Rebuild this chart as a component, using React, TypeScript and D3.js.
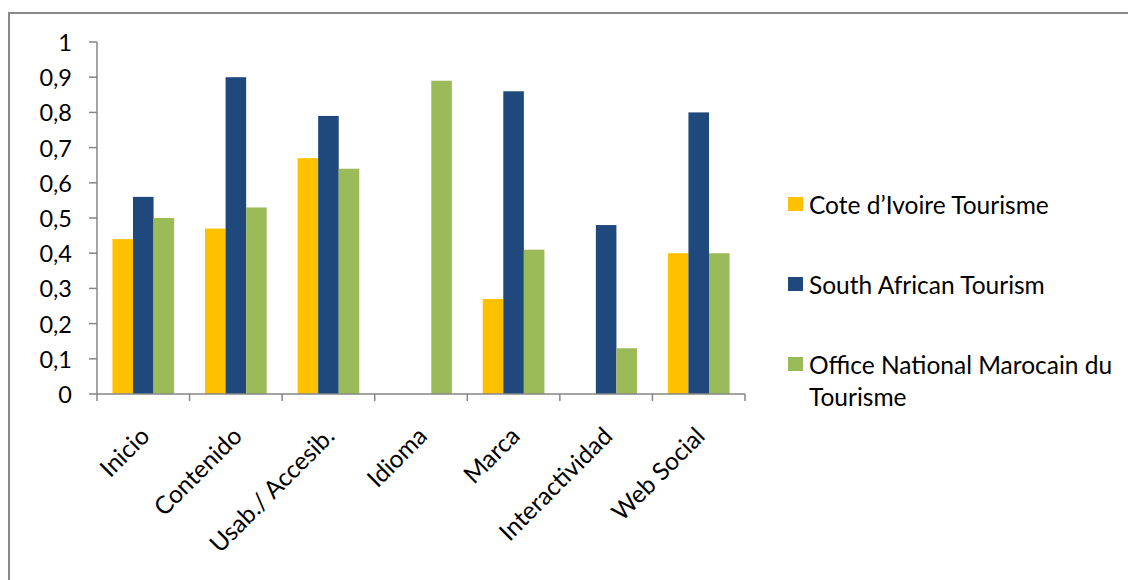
import React from "react";
import * as d3 from "d3";

const categories = ["Inicio", "Contenido", "Usab./ Accesib.", "Idioma", "Marca", "Interactividad", "Web Social"];
const seriesNames = ["Cote d\u2019Ivoire Tourisme", "South African Tourism", "Office National Marocain du Tourisme"];
const coteIvoire = [0.44, 0.47, 0.67, 0, 0.27, 0, 0.4];
const southAfrica = [0.56, 0.9, 0.79, 0, 0.86, 0.48, 0.8];
const maroc = [0.5, 0.53, 0.64, 0.89, 0.41, 0.13, 0.4];
const yTicks = [0, 0.1, 0.2, 0.3, 0.4, 0.5, 0.6, 0.7, 0.8, 0.9, 1];
const colors = ["#FFC000", "#1F497D", "#9BBB59"];

const W = 1128, H = 580;
const FONT = "Lato, 'Liberation Sans', sans-serif";
const FS = 24.5;

export default function App() {
  const seriesValues = [coteIvoire, southAfrica, maroc];
  const x0 = d3.scaleBand<string>().domain(categories).range([97, 745]).padding(0);
  const step = x0.step();
  const gap = step / 3;
  const x1 = d3.scaleBand<number>().domain([0, 1, 2]).range([gap / 2, step - gap / 2]).padding(0);
  const y = d3.scaleLinear().domain([0, 1]).range([394, 42]);
  const fmt = (v: number) => d3.format(".1~f")(v).replace(".", ",");
  const axisColor = "#868686";

  return (
    <svg width={W} height={H} style={{ position: "absolute", left: 0, top: 0, background: "#fff" }} fontFamily={FONT}>
      <rect x={9} y={13} width={W + 20} height={H + 20} fill="none" stroke="#898989" strokeWidth={2} />
      {/* y axis */}
      <line x1={97} x2={97} y1={y(1)} y2={y(0)} stroke={axisColor} strokeWidth={1.5} />
      {yTicks.map((t) => (
        <g key={t}>
          <line x1={89} x2={97} y1={y(t)} y2={y(t)} stroke={axisColor} strokeWidth={1.5} />
          <text x={72} y={y(t)} textAnchor="end" dominantBaseline="central" fontSize={23.5} fill="#000">
            {fmt(t)}
          </text>
        </g>
      ))}
      {/* bars */}
      {categories.map((c, i) => (
        <g key={c}>
          {seriesValues.map((vals, s) => (
            <rect
              key={s}
              x={(x0(c) as number) + (x1(s) as number)}
              y={y(vals[i])}
              width={x1.bandwidth()}
              height={y(0) - y(vals[i])}
              fill={colors[s]}
            />
          ))}
        </g>
      ))}
      {/* x axis */}
      <line x1={97} x2={745} y1={y(0)} y2={y(0)} stroke={axisColor} strokeWidth={1.5} />
      {categories.map((c) => (
        <line key={"t" + c} x1={(x0(c) as number)} x2={(x0(c) as number)} y1={y(0)} y2={y(0) + 7} stroke={axisColor} strokeWidth={1.5} />
      ))}
      <line x1={745} x2={745} y1={y(0)} y2={y(0) + 7} stroke={axisColor} strokeWidth={1.5} />
      {categories.map((c) => {
        const cx = (x0(c) as number) + step / 2 + 1;
        const cy = 431;
        return (
          <text
            key={"l" + c}
            transform={`translate(${cx},${cy}) rotate(-45)`}
            textAnchor="end"
            dominantBaseline="central"
            fontSize={FS}
            fill="#000"
          >
            {c}
          </text>
        );
      })}
      {/* legend */}
      {[0, 1, 2].map((s) => {
        const cy = [204, 284, 364][s];
        return (
          <g key={"lg" + s}>
            <rect x={788} y={cy - 7} width={15} height={14} fill={colors[s]} />
            {s < 2 ? (
              <text x={809} y={cy} dominantBaseline="central" fontSize={FS} fill="#000">
                {seriesNames[s]}
              </text>
            ) : (
              <text x={809} y={cy} dominantBaseline="central" fontSize={FS} fill="#000">
                <tspan x={809}>Office National Marocain du</tspan>
                <tspan x={809} dy={32}>Tourisme</tspan>
              </text>
            )}
          </g>
        );
      })}
    </svg>
  );
}
